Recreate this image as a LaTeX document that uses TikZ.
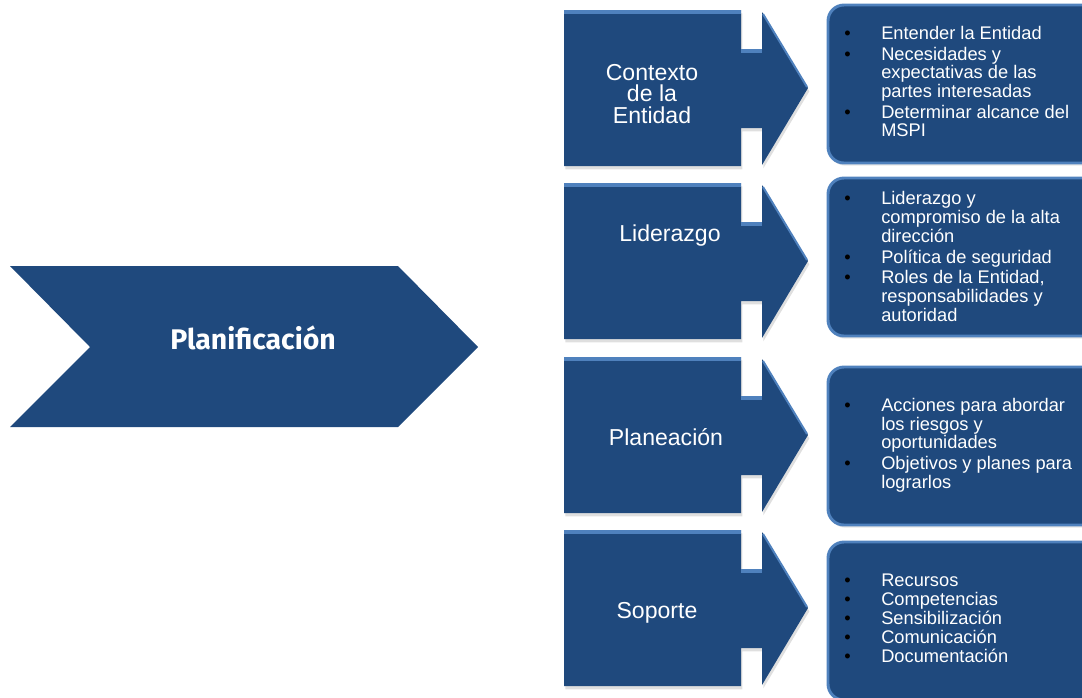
\documentclass[tikz,border=0pt]{standalone}
\usepackage{fontspec}
\setmainfont{Liberation Sans}
\newfontfamily\titlefont{Fira Sans}
\usetikzlibrary{shadows}

\definecolor{navy}{RGB}{31,73,125}
\definecolor{rimblue}{RGB}{79,129,189}

\tikzset{
  arrowbody/.style={fill=navy, drop shadow={shadow xshift=1pt, shadow yshift=-2.5pt, opacity=.25}},
  rimline/.style={draw=rimblue, line width=3pt},
  listbox/.style={fill=navy, draw=rimblue, line width=2.2pt, rounded corners=12pt,
    drop shadow={shadow xshift=1pt, shadow yshift=-2pt, opacity=.2}},
  armlabel/.style={text=white, inner sep=0pt, align=center,
    font=\fontsize{17.3}{16.3}\selectfont},
  listtext/.style={text=white, inner sep=0pt, anchor=west,
    font=\fontsize{13.7}{13.7}\selectfont},
}
\newcommand{\bul}{\textcolor{black}{\textbullet}}

\begin{document}
\begin{tikzpicture}[x=0.75pt,y=0.75pt,yscale=-1,xscale=1]
\useasboundingbox (0,0) rectangle (1082,697);
\clip (0,0) rectangle (1082,697);

%Shape: Chevron
\fill [navy] (10,266) -- (398,266) -- (478,347) -- (398,427) -- (10,427) -- (90,347) -- cycle;
% Text Node
\node [text=white, font=\titlefont\bfseries\fontsize{21.3}{24}\selectfont] (plan) at (253,338) {Planificación};

%Shapes: block arrows
\foreach \t in {10,183,357,530}{
  \path [arrowbody] (564,\t) -- (741,\t) -- (741,\t+39) -- (762,\t+39) -- (762,\t+2) -- (808,\t+78)
    -- (762,\t+155) -- (762,\t+118) -- (741,\t+118) -- (741,\t+156) -- (564,\t+156) -- cycle;
  \draw [rimline] (564,\t+2) -- (741,\t+2);
  \draw [rimline] (741,\t+41) -- (762,\t+41);
  \draw [rimline, line width=1.5pt] (763,\t+4) -- (807,\t+77);
}

% Text Nodes
\node [armlabel] (ctx) at (652,94) {Contexto\\de la\\Entidad};
\node [armlabel] (lid) at (670,236) {Liderazgo};
\node [armlabel] (pla) at (666,437) {Planeación};
\node [armlabel] (sop) at (657,613) {Soporte};

%Shapes: rounded boxes
\foreach \t in {5,178,367,542}{
  \path [listbox] (828,\t) rectangle (1110,\t+158);
}

% Text Nodes
\node [listtext] (ctxlist) at (844,84) {\begin{tabular}{@{}p{27.75pt}@{}l@{}}
\bul & Entender la Entidad\\[1.5pt]
\bul & Necesidades y\\
 & expectativas de las\\
 & partes interesadas\\[1.5pt]
\bul & Determinar alcance del\\
 & MSPI
\end{tabular}};
\node [listtext] (lidlist) at (844,259) {\begin{tabular}{@{}p{27.75pt}@{}l@{}}
\bul & Liderazgo y\\
 & compromiso de la alta\\
 & dirección\\[1.5pt]
\bul & Política de seguridad\\[1.5pt]
\bul & Roles de la Entidad,\\
 & responsabilidades y\\
 & autoridad
\end{tabular}};
\node [listtext] (plalist) at (844,446) {\begin{tabular}{@{}p{27.75pt}@{}l@{}}
\bul & Acciones para abordar\\
 & los riesgos y\\
 & oportunidades\\[1.5pt]
\bul & Objetivos y planes para\\
 & lograrlos
\end{tabular}};
\node [listtext] (soplist) at (844,621) {\begin{tabular}{@{}p{27.75pt}@{}l@{}}
\bul & Recursos\\
\bul & Competencias\\
\bul & Sensibilización\\
\bul & Comunicación\\
\bul & Documentación
\end{tabular}};

\end{tikzpicture}
\end{document}
